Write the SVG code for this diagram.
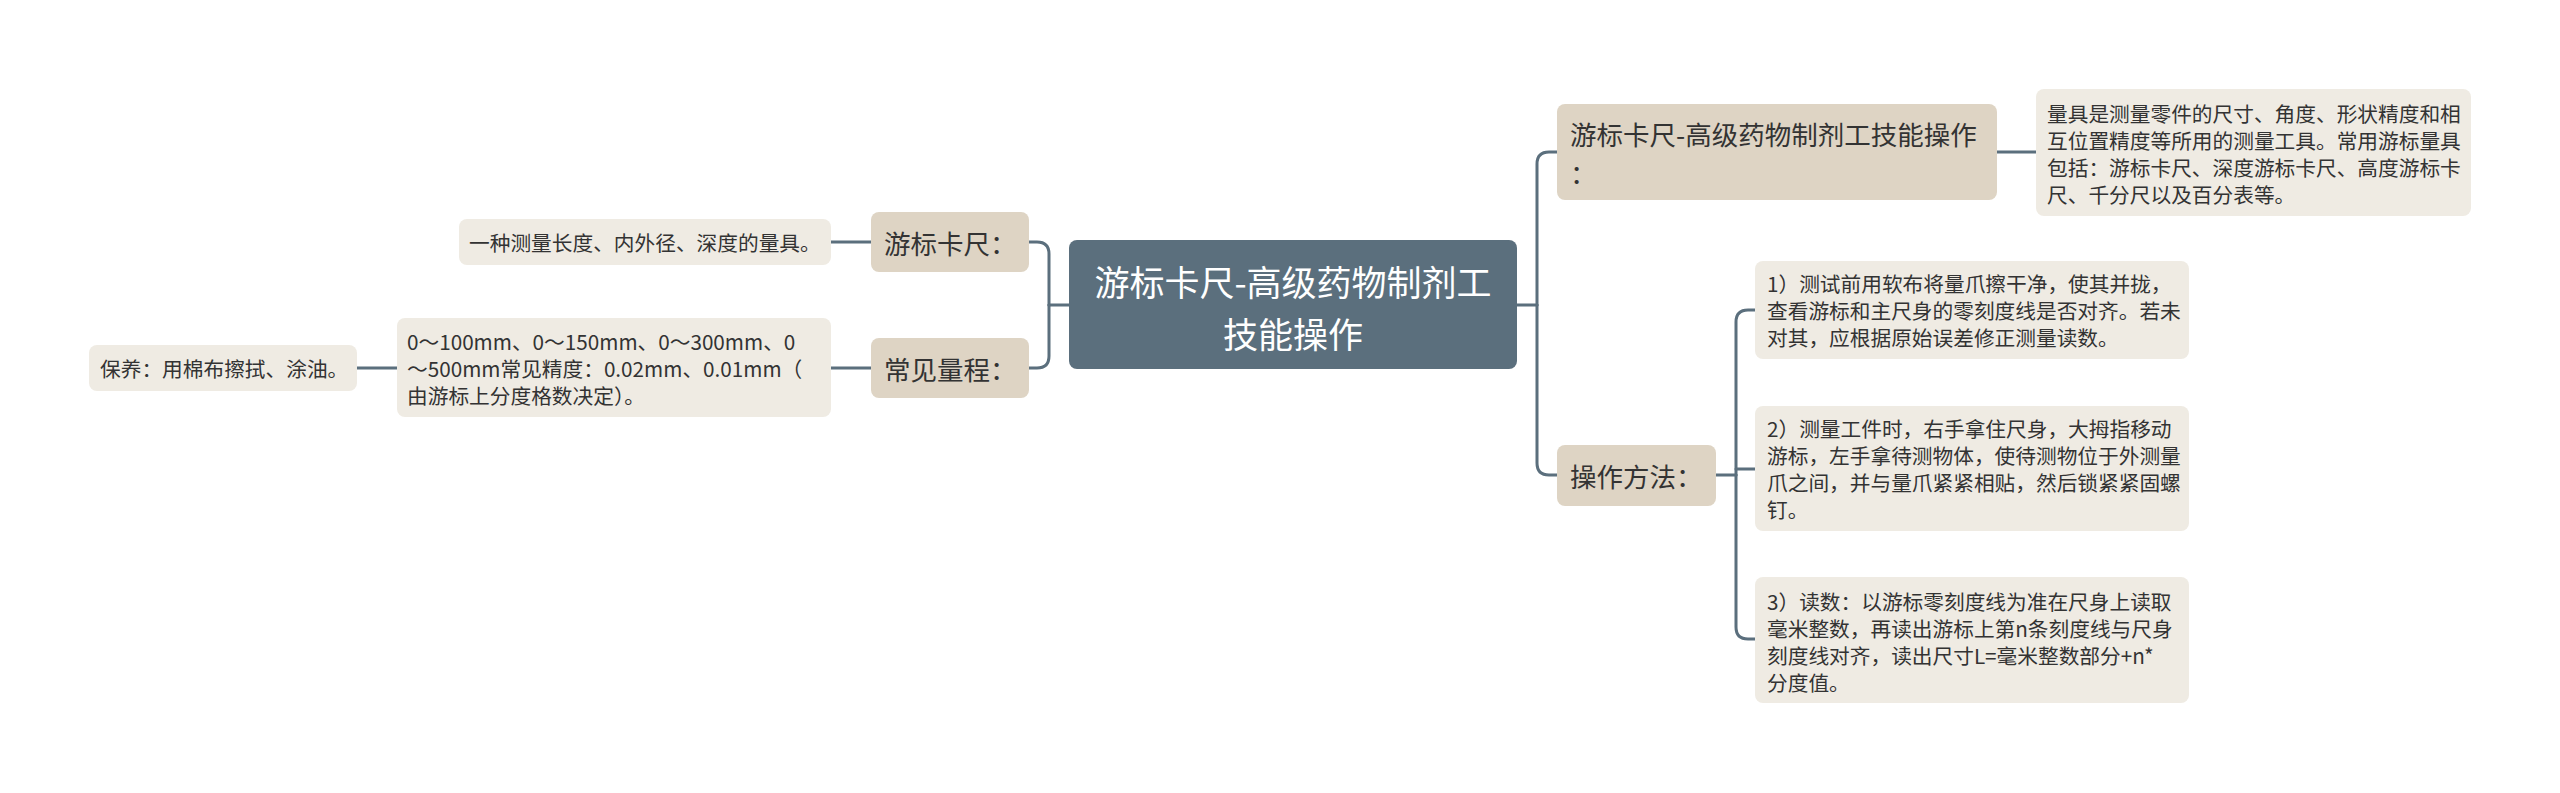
<svg xmlns="http://www.w3.org/2000/svg" width="2560" height="793" viewBox="0 0 2560 793">
<style>
text{font-family:"Noto Sans CJK SC","Noto Sans",sans-serif;dominant-baseline:central;fill:#333333}
.root rect{fill:#5b6f7d}
.root text{fill:#ffffff;font-size:35px;text-anchor:middle}
.l1 rect{fill:#ded4c4}
.l1 text{font-size:26.5px}
.leaf rect{fill:#efebe3}
.leaf text{font-size:20.7px}
.conn path{fill:none;stroke:#5b6f7d;stroke-width:3;stroke-linecap:round}
</style>
<rect width="2560" height="793" fill="#ffffff"/>
<g class="conn" id="connectors">
<path d="M1517,305 H1537"/>
<path d="M1537,305 V164 Q1537,152 1549,152 H1557"/>
<path d="M1537,305 V463 Q1537,475 1549,475 H1557"/>
<path d="M1997,152 H2036"/>
<path d="M1716,475 H1736"/>
<path d="M1736,475 V322 Q1736,310 1748,310 H1755"/>
<path d="M1736,469 H1755"/>
<path d="M1736,475 V627 Q1736,639 1748,639 H1755"/>
<path d="M1069,305 H1049"/>
<path d="M1049,305 V254 Q1049,242 1037,242 H1029"/>
<path d="M1049,305 V356 Q1049,368 1037,368 H1029"/>
<path d="M871,242 H831"/>
<path d="M871,368 H831"/>
<path d="M397,368 H357"/>
</g>
<g id="root" class="root">
<rect x="1069" y="240" width="448" height="129" rx="8"/>
<text x="1293" y="280">游标卡尺-高级药物制剂工</text>
<text x="1293" y="332">技能操作</text>
</g>
<g id="n-title" class="l1">
<rect x="1557" y="104" width="440" height="96" rx="8"/>
<text x="1570" y="133">游标卡尺-高级药物制剂工技能操作</text>
<text x="1570" y="172">：</text>
</g>
<g id="n-title-desc" class="leaf">
<rect x="2036" y="89" width="435" height="127" rx="8"/>
<text x="2047" y="113">量具是测量零件的尺寸、角度、形状精度和相</text>
<text x="2047" y="140">互位置精度等所用的测量工具。常用游标量具</text>
<text x="2047" y="167">包括：游标卡尺、深度游标卡尺、高度游标卡</text>
<text x="2047" y="194">尺、千分尺以及百分表等。</text>
</g>
<g id="n-ops" class="l1">
<rect x="1557" y="445" width="159" height="61" rx="8"/>
<text x="1570" y="475">操作方法：</text>
</g>
<g id="n-ops-1" class="leaf">
<rect x="1755" y="261" width="434" height="98" rx="8"/>
<text x="1767" y="283">1）测试前用软布将量爪擦干净，使其并拢，</text>
<text x="1767" y="310">查看游标和主尺身的零刻度线是否对齐。若未</text>
<text x="1767" y="337">对其，应根据原始误差修正测量读数。</text>
</g>
<g id="n-ops-2" class="leaf">
<rect x="1755" y="406" width="434" height="125" rx="8"/>
<text x="1767" y="428">2）测量工件时，右手拿住尺身，大拇指移动</text>
<text x="1767" y="455">游标，左手拿待测物体，使待测物位于外测量</text>
<text x="1767" y="482">爪之间，并与量爪紧紧相贴，然后锁紧紧固螺</text>
<text x="1767" y="509">钉。</text>
</g>
<g id="n-ops-3" class="leaf">
<rect x="1755" y="577" width="434" height="126" rx="8"/>
<text x="1767" y="601">3）读数：以游标零刻度线为准在尺身上读取</text>
<text x="1767" y="628">毫米整数，再读出游标上第n条刻度线与尺身</text>
<text x="1767" y="655">刻度线对齐，读出尺寸L=毫米整数部分+n*</text>
<text x="1767" y="682">分度值。</text>
</g>
<g id="n-caliper" class="l1">
<rect x="871" y="212" width="158" height="60" rx="8"/>
<text x="884" y="242">游标卡尺：</text>
</g>
<g id="n-caliper-desc" class="leaf">
<rect x="459" y="219" width="372" height="46" rx="8"/>
<text x="469" y="242">一种测量长度、内外径、深度的量具。</text>
</g>
<g id="n-range" class="l1">
<rect x="871" y="338" width="158" height="60" rx="8"/>
<text x="884" y="368">常见量程：</text>
</g>
<g id="n-range-desc" class="leaf">
<rect x="397" y="318" width="434" height="99" rx="8"/>
<text x="407" y="340.5">0～100mm、0～150mm、0～300mm、0</text>
<text x="407" y="367.5">～500mm常见精度：0.02mm、0.01mm（</text>
<text x="407" y="394.5">由游标上分度格数决定）。</text>
</g>
<g id="n-care" class="leaf">
<rect x="89" y="345" width="268" height="46" rx="8"/>
<text x="100" y="368">保养：用棉布擦拭、涂油。</text>
</g>
</svg>
